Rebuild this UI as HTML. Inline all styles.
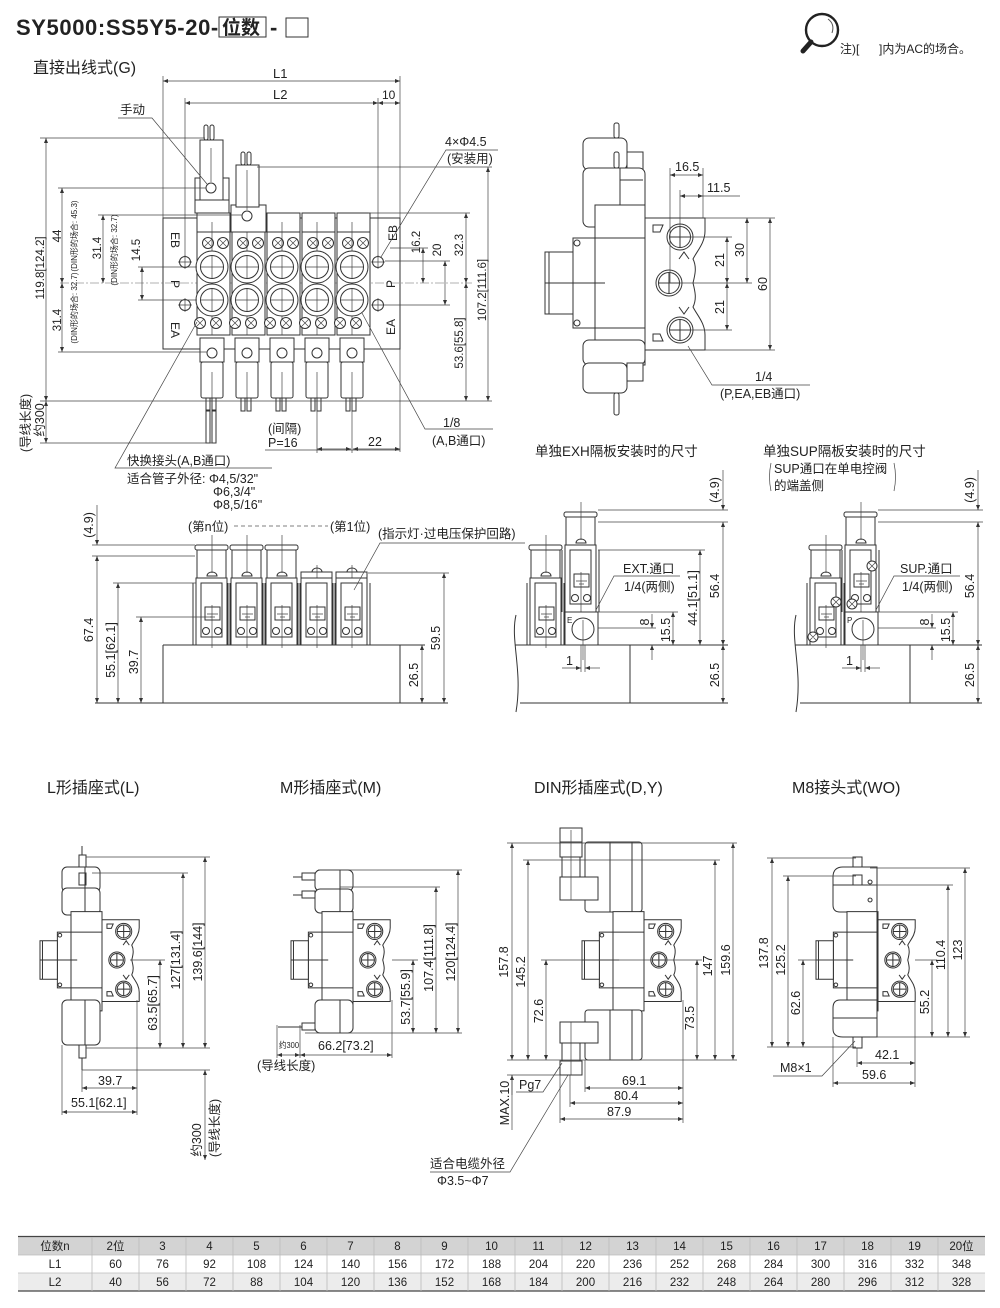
<!DOCTYPE html>
<html><head><meta charset="utf-8"><title>SY5000 SS5Y5-20</title>
<style>
html,body{margin:0;padding:0;background:#fff;width:1000px;height:1308px;overflow:hidden}
svg{display:block}
text{font-family:"Liberation Sans","Noto Sans CJK SC",sans-serif;fill:#222;font-size:11.5px}
.o{fill:none;stroke:#333;stroke-width:1;vector-effect:non-scaling-stroke}
.w{fill:#fff;stroke:#333;stroke-width:1;vector-effect:non-scaling-stroke}
.e{fill:none;stroke:#444;stroke-width:0.7}
.m{fill:none;stroke:#444;stroke-width:0.7;marker-start:url(#a);marker-end:url(#a)}
.m1{fill:none;stroke:#444;stroke-width:0.7;marker-end:url(#a)}
.c{fill:none;stroke:#666;stroke-width:0.6;stroke-dasharray:9 2 2 2}
.r{text-anchor:middle}
.s{font-size:8px}
.h{font-size:16px}
.l{font-size:12.5px}
.tb{font-size:11.5px;text-anchor:middle}
</style></head>
<body>
<svg width="1000" height="1308" viewBox="0 0 1000 1308">
<defs>
<marker id="a" viewBox="0 0 10 10" refX="10" refY="5" markerWidth="7" markerHeight="5" markerUnits="userSpaceOnUse" orient="auto-start-reverse"><path d="M0,1 L10,5 L0,9z" fill="#333"/></marker>

<!-- plan view station -->
<g id="ps">
<rect class="w" x="0" y="213" width="33" height="122"/>
<line class="o" x1="0" y1="232" x2="33" y2="232"/>
<line class="e" x1="15" y1="222" x2="15" y2="335"/>
<circle class="o" cx="11" cy="243" r="5.5"/><circle class="o" cx="26" cy="243" r="5.5"/>
<path class="e" d="M7,239l8,8M15,239l-8,8M22,239l8,8M30,239l-8,8"/>
<circle class="w" cx="15" cy="267" r="16"/><circle class="o" cx="15" cy="267" r="11.5"/>
<circle class="w" cx="15" cy="300" r="16"/><circle class="o" cx="15" cy="300" r="11.5"/>
<path class="e" d="M15,256V278M4,267H26M15,289V311M4,300H26"/>
<circle class="w" cx="3" cy="323" r="5.5"/><circle class="w" cx="19" cy="323" r="5.5"/>
<path class="e" d="M-1,319l8,8M7,319l-8,8M15,319l8,8M23,319l-8,8"/>
<rect class="w" x="3" y="338" width="24" height="24"/>
<circle class="o" cx="15" cy="353" r="5"/>
<rect class="w" x="4" y="362" width="22" height="36" rx="2"/>
<line class="e" x1="15" y1="372" x2="15" y2="398"/>
<rect class="o" x="9" y="398" width="4" height="13"/><rect class="o" x="15" y="398" width="4" height="13"/>
</g>

<!-- front view station full -->
<g id="fa">
<rect class="w" x="-1" y="-100" width="33" height="5" rx="2"/>
<rect class="w" x="1" y="-95" width="29" height="30"/>
<path class="o" d="M11,-69 a5,4 0 0 1 10,0 z"/>
<line class="e" x1="16" y1="-110" x2="16" y2="-72"/>
<rect class="w" x="0" y="-67" width="31" height="67"/>
<rect class="o" x="5" y="-62" width="21" height="54"/>
<rect class="o" x="9" y="-38" width="15" height="13"/>
<path class="e" d="M11,-31h11M14,-28h5"/>
<circle class="o" cx="10" cy="-14" r="3.5"/><circle class="o" cx="22" cy="-14" r="3.5"/>
<line class="e" x1="16" y1="-40" x2="16" y2="3"/>
<path class="o" d="M-3,-62V0M34,-62V0"/>
</g>
<g id="fb">
<rect class="w" x="0" y="-73" width="31" height="8"/>
<path class="o" d="M11,-73 a5,4 0 0 1 10,0"/>
<line class="e" x1="16" y1="-80" x2="16" y2="-50"/>
<rect class="w" x="0" y="-67" width="31" height="67"/>
<rect class="o" x="5" y="-62" width="21" height="54"/>
<rect class="o" x="9" y="-38" width="15" height="13"/>
<path class="e" d="M11,-31h11M14,-28h5"/>
<circle class="o" cx="10" cy="-14" r="3.5"/><circle class="o" cx="22" cy="-14" r="3.5"/>
<line class="e" x1="16" y1="-40" x2="16" y2="3"/>
<path class="o" d="M-3,-62V0M34,-62V0"/>
</g>

<!-- side view base: manifold + body + fitting; origin = manifold left edge at P centre -->
<g id="sb">
<path class="w" d="M0,-65 H60 V-52 C60,-40 52,-32 48,-24 C52,-16 50,-8 48,0 C50,8 52,16 48,24 C52,32 60,40 60,52 V67 H0 Z"/>
<circle class="o" cx="35" cy="-46" r="13"/><circle class="o" cx="35" cy="-46" r="10.5"/>
<circle class="o" cx="24" cy="0" r="13"/><circle class="o" cx="24" cy="0" r="10.5"/>
<circle class="o" cx="35" cy="47" r="13"/><circle class="o" cx="35" cy="47" r="10.5"/>
<path class="o" d="M35,-56V-36M25,-46H45M24,-10V10M14,0H34M35,37V57M25,47H45"/>
<path class="o" d="M8,-58 h10 l-3,7 h-7 z M8,58 h10 l-3,-7 h-7 z"/>
<path class="o" d="M34,-24 l5,-7 l5,7 M34,24 l5,7 l5,-7"/>
<rect class="w" x="-50" y="-78" width="50" height="160"/>
<path class="o" d="M-50,-45 H0 M-50,45 H0"/>
<rect class="w" x="-72" y="-45" width="22" height="90"/>
<circle class="o" cx="-68" cy="-40" r="3"/><circle class="o" cx="-68" cy="40" r="3"/>
<rect class="w" x="-100" y="-31" width="28" height="62"/>
<path class="o" d="M-100,0 H-40 M-96,-31 V31"/>
</g>
</defs>

<!-- ======= TITLE ======= -->
<text x="16" y="35" style="font-size:22px;font-weight:bold;letter-spacing:0.6px">SY5000:SS5Y5-20-</text>
<rect x="219" y="17" width="47" height="20" fill="none" stroke="#333" stroke-width="1"/>
<text x="222" y="34" style="font-size:19px;font-weight:bold">位数</text>
<text x="270" y="35" style="font-size:22px;font-weight:bold">-</text>
<rect x="286" y="18" width="22" height="19" fill="none" stroke="#333" stroke-width="1"/>

<circle cx="822" cy="30" r="16" fill="none" stroke="#222" stroke-width="2.4"/>
<path d="M828,19 q7,5 4,14" fill="none" stroke="#555" stroke-width="1"/>
<line x1="811" y1="42" x2="803" y2="51" stroke="#222" stroke-width="5" stroke-linecap="round"/>
<text x="840" y="53" style="font-size:12px">注)[</text>
<text x="879" y="53" style="font-size:12px">]内为AC的场合。</text>

<text x="33" y="73" class="h">直接出线式(G)</text>

<!-- ======= PLAN VIEW (G) ======= -->
<line class="e" x1="163" y1="76" x2="163" y2="218"/>
<line class="e" x1="400" y1="76" x2="400" y2="452"/>
<line class="e" x1="185" y1="98" x2="185" y2="262"/>
<line class="e" x1="378" y1="98" x2="378" y2="262"/>
<line class="m" x1="163" y1="81" x2="400" y2="81"/>
<text x="273" y="78" style="font-size:13px">L1</text>
<line class="m" x1="185" y1="103" x2="378" y2="103"/>
<text x="273" y="99" style="font-size:13px">L2</text>
<line class="m" x1="378" y1="103" x2="400" y2="103"/>
<text x="382" y="99" style="font-size:12px">10</text>

<rect class="o" x="163" y="218" width="237" height="131"/>
<line class="c" x1="60" y1="283" x2="472" y2="283"/>

<g>
<circle class="w" cx="185" cy="262" r="5.5"/><circle class="w" cx="185" cy="305" r="5.5"/>
<circle class="w" cx="378" cy="262" r="5.5"/><circle class="w" cx="378" cy="305" r="5.5"/>
<path class="e" d="M178,262h14M185,255v14M178,305h14M185,298v14M371,262h14M378,255v14M371,305h14M378,298v14"/>
</g>

<use href="#ps" x="197"/>
<use href="#ps" x="232"/>
<use href="#ps" x="267"/>
<use href="#ps" x="302"/>
<use href="#ps" x="337"/>

<!-- station 1 & 2 solenoids -->
<rect class="w" x="195" y="178" width="34" height="35"/>
<line class="o" x1="195" y1="200" x2="229" y2="200"/>
<rect class="w" x="200" y="140" width="23" height="60"/>
<line class="e" x1="211" y1="148" x2="211" y2="182"/>
<circle class="w" cx="211" cy="188" r="5"/>
<rect class="o" x="204" y="125" width="4" height="15" rx="2"/><rect class="o" x="210" y="125" width="4" height="15" rx="2"/>
<rect class="w" x="231" y="205" width="35" height="27"/>
<rect class="w" x="236" y="165" width="23" height="42"/>
<line class="e" x1="247" y1="170" x2="247" y2="210"/>
<circle class="w" cx="247" cy="216" r="5"/>
<rect class="o" x="241" y="152" width="4" height="13" rx="2"/><rect class="o" x="247" y="152" width="4" height="13" rx="2"/>
<rect class="o" x="206" y="410" width="4" height="33"/><rect class="o" x="212" y="410" width="4" height="33"/>

<!-- labels EB P EA -->
<text transform="translate(171,240) rotate(90)" class="r" style="font-size:12px">EB</text>
<text transform="translate(171,284) rotate(90)" class="r" style="font-size:12px">P</text>
<text transform="translate(171,330) rotate(90)" class="r" style="font-size:12px">EA</text>
<text transform="translate(397,233) rotate(-90)" class="r" style="font-size:12px">EB</text>
<text transform="translate(395,284) rotate(-90)" class="r" style="font-size:12px">P</text>
<text transform="translate(395,327) rotate(-90)" class="r" style="font-size:12px">EA</text>

<!-- left dims -->
<line class="e" x1="40" y1="138" x2="205" y2="138"/>
<line class="m" x1="46" y1="138" x2="46" y2="401"/>
<text transform="translate(44,268) rotate(-90)" class="r">119.8[124.2]</text>
<line class="e" x1="58" y1="188" x2="206" y2="188"/>
<line class="m" x1="62" y1="188" x2="62" y2="283"/>
<text transform="translate(61,236) rotate(-90)" class="r">44</text>
<text transform="translate(77,236) rotate(-90)" class="r s">(DIN形的场合: 45.3)</text>
<line class="e" x1="98" y1="215" x2="242" y2="215"/>
<line class="m" x1="103" y1="215" x2="103" y2="283"/>
<text transform="translate(101,248) rotate(-90)" class="r">31.4</text>
<text transform="translate(117,250) rotate(-90)" class="r s">(DIN形的场合: 32.7)</text>
<line class="e" x1="138" y1="267" x2="197" y2="267"/>
<line class="e" x1="138" y1="300" x2="197" y2="300"/>
<line class="m" x1="142" y1="267" x2="142" y2="300"/>
<text transform="translate(140,250) rotate(-90)" class="r">14.5</text>
<line class="m" x1="62" y1="283" x2="62" y2="352"/>
<text transform="translate(61,320) rotate(-90)" class="r">31.4</text>
<text transform="translate(77,308) rotate(-90)" class="r s">(DIN形的场合: 32.7)</text>
<line class="e" x1="58" y1="352" x2="207" y2="352"/>
<line class="e" x1="40" y1="401" x2="492" y2="401"/>
<line class="m" x1="46" y1="401" x2="46" y2="443"/>
<line class="e" x1="40" y1="443" x2="216" y2="443"/>
<text transform="translate(44,420) rotate(-90)" class="r l">约300</text>
<text transform="translate(30,423) rotate(-90)" class="r l">(导线长度)</text>

<!-- right dims -->
<line class="e" x1="257" y1="167" x2="492" y2="167"/>
<line class="e" x1="368" y1="213" x2="470" y2="213"/>
<line class="e" x1="390" y1="248" x2="428" y2="248"/>
<line class="e" x1="385" y1="261" x2="450" y2="261"/>
<line class="e" x1="385" y1="305" x2="450" y2="305"/>
<line class="m" x1="423" y1="248" x2="423" y2="283"/>
<text transform="translate(420,242) rotate(-90)" class="r">16.2</text>
<line class="m" x1="445" y1="261" x2="445" y2="305"/>
<text transform="translate(441,250) rotate(-90)" class="r">20</text>
<line class="m" x1="466" y1="213" x2="466" y2="283"/>
<text transform="translate(463,245) rotate(-90)" class="r">32.3</text>
<line class="m" x1="466" y1="283" x2="466" y2="401"/>
<text transform="translate(463,343) rotate(-90)" class="r">53.6[55.8]</text>
<line class="m" x1="488" y1="167" x2="488" y2="401"/>
<text transform="translate(486,290) rotate(-90)" class="r">107.2[111.6]</text>

<!-- annotations -->
<text x="120" y="114" class="l">手动</text>
<path class="e" d="M118,118 H152 L207,184"/>
<text x="445" y="146" class="l">4×Φ4.5</text>
<text x="447" y="163" class="l">(安装用)</text>
<path class="e" d="M381,257 L446,150 H498"/>
<text x="268" y="433" class="l">(间隔)</text>
<text x="268" y="447" class="l">P=16</text>
<line class="e" x1="265" y1="450" x2="400" y2="450"/>
<line class="e" x1="317" y1="398" x2="317" y2="453"/>
<line class="e" x1="352" y1="398" x2="352" y2="453"/>
<line class="m" x1="317" y1="449" x2="351" y2="449"/>
<line class="m" x1="353" y1="449" x2="400" y2="449"/>
<text x="368" y="446" class="l">22</text>
<path class="e" d="M362,313 L425,429 H493"/>
<text x="443" y="427" class="l">1/8</text>
<text x="432" y="445" class="l">(A,B通口)</text>
<path class="e" d="M197,322 L115,468 H272"/>
<text x="127" y="465" class="l">快换接头(A,B通口)</text>
<text x="127" y="483" class="l">适合管子外径: Φ4,5/32"</text>
<text x="213" y="496" class="l">Φ6,3/4"</text>
<text x="213" y="509" class="l">Φ8,5/16"</text>

<!-- ======= TOP-RIGHT SIDE VIEW ======= -->
<rect class="w" x="583" y="138" width="44" height="32" rx="6"/>
<rect class="w" x="627" y="152" width="16" height="18"/>
<rect class="w" x="583" y="168" width="62" height="59" rx="6"/>
<path class="o" d="M620,168V227M620,180H643M620,205H643"/>
<rect class="o" x="614" y="123" width="5" height="15" rx="2"/>
<rect class="o" x="614" y="152" width="5" height="16" rx="2"/>
<use href="#sb" transform="translate(645,283)"/>
<rect class="w" x="583" y="340" width="62" height="25" rx="6"/>
<rect class="w" x="583" y="363" width="44" height="30" rx="6"/>
<rect class="w" x="627" y="363" width="16" height="18"/>
<rect class="o" x="614" y="393" width="5" height="22" rx="2"/>

<line class="e" x1="670" y1="168" x2="670" y2="283"/>
<line class="e" x1="703" y1="168" x2="703" y2="218"/>
<line class="e" x1="680" y1="190" x2="680" y2="237"/>
<line class="m" x1="670" y1="175" x2="703" y2="175"/>
<text x="675" y="171" class="l">16.5</text>
<line class="m" x1="680" y1="196" x2="703" y2="196"/>
<line class="e" x1="703" y1="196" x2="740" y2="196"/>
<text x="707" y="192" class="l">11.5</text>
<line class="e" x1="705" y1="218" x2="775" y2="218"/>
<line class="e" x1="680" y1="237" x2="732" y2="237"/>
<line class="e" x1="660" y1="283" x2="752" y2="283"/>
<line class="e" x1="680" y1="330" x2="732" y2="330"/>
<line class="e" x1="705" y1="350" x2="775" y2="350"/>
<line class="m" x1="727" y1="237" x2="727" y2="283"/>
<line class="m" x1="727" y1="283" x2="727" y2="330"/>
<line class="m" x1="747" y1="218" x2="747" y2="283"/>
<line class="m" x1="770" y1="218" x2="770" y2="350"/>
<text transform="translate(724,260) rotate(-90)" class="r l">21</text>
<text transform="translate(724,307) rotate(-90)" class="r l">21</text>
<text transform="translate(744,250) rotate(-90)" class="r l">30</text>
<text transform="translate(767,284) rotate(-90)" class="r l">60</text>
<path class="e" d="M688,346 L712,385 H810"/>
<text x="755" y="381" class="l">1/4</text>
<text x="720" y="398" class="l">(P,EA,EB通口)</text>

<!-- ======= FRONT VIEW (middle left) ======= -->
<line class="o" x1="163" y1="645" x2="425" y2="645"/>
<line class="o" x1="163" y1="645" x2="163" y2="703"/>
<line class="o" x1="400" y1="645" x2="400" y2="703"/>
<line class="o" x1="95" y1="703" x2="448" y2="703"/>
<use href="#fa" transform="translate(196,645)"/>
<use href="#fa" transform="translate(231,645)"/>
<use href="#fa" transform="translate(266,645)"/>
<use href="#fb" transform="translate(301,645)"/>
<use href="#fb" transform="translate(336,645)"/>

<line class="e" x1="92" y1="545" x2="195" y2="545"/>
<line class="e" x1="92" y1="556" x2="195" y2="556"/>
<line class="m1" x1="97" y1="505" x2="97" y2="545"/>
<text transform="translate(93,525) rotate(-90)" class="r l">(4.9)</text>
<line class="m" x1="97" y1="556" x2="97" y2="703"/>
<text transform="translate(93,630) rotate(-90)" class="r l">67.4</text>
<line class="e" x1="113" y1="583" x2="196" y2="583"/>
<line class="m" x1="118" y1="583" x2="118" y2="703"/>
<text transform="translate(115,650) rotate(-90)" class="r l">55.1[62.1]</text>
<line class="e" x1="136" y1="617" x2="212" y2="617"/>
<line class="m" x1="141" y1="617" x2="141" y2="703"/>
<text transform="translate(138,662) rotate(-90)" class="r l">39.7</text>
<line class="e" x1="368" y1="573" x2="449" y2="573"/>
<line class="m" x1="444" y1="573" x2="444" y2="703"/>
<text transform="translate(440,638) rotate(-90)" class="r l">59.5</text>
<line class="m" x1="422" y1="645" x2="422" y2="703"/>
<text transform="translate(418,675) rotate(-90)" class="r l">26.5</text>

<text x="188" y="531" class="l">(第n位)</text>
<line x1="234" y1="526" x2="328" y2="526" stroke="#555" stroke-width="0.8" stroke-dasharray="4 3"/>
<text x="330" y="531" class="l">(第1位)</text>
<text x="378" y="538" class="l">(指示灯·过电压保护回路)</text>
<path class="e" d="M354,590 L380,543 H525"/>

<!-- ======= EXH ======= -->
<text x="535" y="456" style="font-size:13.5px">单独EXH隔板安装时的尺寸</text>
<path class="o" d="M515,645 H728 M630,645 V703 M520,703 H728"/>
<path class="o" d="M516,615 C510,640 523,670 516,712"/>
<use href="#fa" transform="translate(530,645)"/>
<use href="#fa" transform="translate(565,612)"/>
<rect class="w" x="565" y="612" width="33" height="33"/>
<circle class="o" cx="583" cy="629" r="11"/><line class="e" x1="583" y1="620" x2="583" y2="660"/>
<text x="567" y="623" style="font-size:8px">E</text>
<line class="e" x1="598" y1="510" x2="728" y2="510"/>
<line class="e" x1="598" y1="522" x2="728" y2="522"/>
<line class="m1" x1="723" y1="470" x2="723" y2="510"/>
<text transform="translate(719,490) rotate(-90)" class="r l">(4.9)</text>
<line class="m" x1="723" y1="522" x2="723" y2="645"/>
<text transform="translate(719,586) rotate(-90)" class="r l">56.4</text>
<line class="e" x1="598" y1="550" x2="705" y2="550"/>
<line class="m" x1="700" y1="550" x2="700" y2="645"/>
<text transform="translate(697,598) rotate(-90)" class="r l">44.1[51.1]</text>
<line class="e" x1="598" y1="612" x2="678" y2="612"/>
<line class="m" x1="673" y1="612" x2="673" y2="645"/>
<text transform="translate(670,630) rotate(-90)" class="r l">15.5</text>
<line class="e" x1="598" y1="628" x2="656" y2="628"/>
<line class="m1" x1="652" y1="614" x2="652" y2="628"/>
<line class="m1" x1="652" y1="660" x2="652" y2="645"/>
<text transform="translate(649,622) rotate(-90)" class="r l">8</text>
<line class="m" x1="723" y1="645" x2="723" y2="703"/>
<text transform="translate(719,675) rotate(-90)" class="r l">26.5</text>
<line class="e" x1="581" y1="645" x2="581" y2="672"/>
<line class="e" x1="585" y1="645" x2="585" y2="672"/>
<line class="m1" x1="562" y1="668" x2="581" y2="668"/>
<line class="m1" x1="600" y1="668" x2="585" y2="668"/>
<text x="566" y="665" class="l">1</text>
<path class="e" d="M596,610 L614,576 H680"/>
<text x="623" y="573" class="l">EXT.通口</text>
<text x="624" y="591" class="l">1/4(两侧)</text>

<!-- ======= SUP ======= -->
<text x="763" y="456" style="font-size:13.5px">单独SUP隔板安装时的尺寸</text>
<path class="e" d="M771,463 q-3,14 0,28 M894,463 q3,14 0,28"/>
<text x="774" y="473" class="l">SUP通口在单电控阀</text>
<text x="774" y="490" class="l">的端盖侧</text>
<path class="o" d="M795,645 H982 M910,645 V703 M800,703 H982"/>
<path class="o" d="M796,615 C790,640 803,670 796,712"/>
<use href="#fa" transform="translate(810,645)"/>
<use href="#fa" transform="translate(845,612)"/>
<rect class="w" x="845" y="612" width="33" height="33"/>
<circle class="o" cx="863" cy="629" r="11"/><line class="e" x1="863" y1="620" x2="863" y2="660"/>
<text x="847" y="623" style="font-size:8px">P</text>
<g>
<circle class="w" cx="872" cy="566" r="5"/><circle class="w" cx="836" cy="602" r="5"/><circle class="w" cx="852" cy="604" r="5"/><circle class="w" cx="813" cy="637" r="5"/>
<path class="e" d="M868,562l8,8M876,562l-8,8M832,598l8,8M840,598l-8,8M848,600l8,8M856,600l-8,8M809,633l8,8M817,633l-8,8"/>
</g>
<line class="e" x1="878" y1="510" x2="983" y2="510"/>
<line class="e" x1="878" y1="522" x2="983" y2="522"/>
<line class="m1" x1="978" y1="470" x2="978" y2="510"/>
<text transform="translate(974,490) rotate(-90)" class="r l">(4.9)</text>
<line class="m" x1="978" y1="522" x2="978" y2="645"/>
<text transform="translate(974,586) rotate(-90)" class="r l">56.4</text>
<line class="e" x1="878" y1="612" x2="958" y2="612"/>
<line class="m" x1="953" y1="612" x2="953" y2="645"/>
<text transform="translate(950,630) rotate(-90)" class="r l">15.5</text>
<line class="e" x1="878" y1="628" x2="936" y2="628"/>
<line class="m1" x1="932" y1="614" x2="932" y2="628"/>
<line class="m1" x1="932" y1="660" x2="932" y2="645"/>
<text transform="translate(929,622) rotate(-90)" class="r l">8</text>
<line class="m" x1="978" y1="645" x2="978" y2="703"/>
<text transform="translate(974,675) rotate(-90)" class="r l">26.5</text>
<line class="e" x1="861" y1="645" x2="861" y2="672"/>
<line class="e" x1="865" y1="645" x2="865" y2="672"/>
<line class="m1" x1="842" y1="668" x2="861" y2="668"/>
<line class="m1" x1="880" y1="668" x2="865" y2="668"/>
<text x="846" y="665" class="l">1</text>
<path class="e" d="M876,610 L894,576 H960"/>
<text x="900" y="573" class="l">SUP.通口</text>
<text x="902" y="591" class="l">1/4(两侧)</text>

<!-- ======= BOTTOM ROW TITLES ======= -->
<text x="47" y="793" class="h">L形插座式(L)</text>
<text x="280" y="793" class="h">M形插座式(M)</text>
<text x="534" y="793" class="h">DIN形插座式(D,Y)</text>
<text x="792" y="793" class="h">M8接头式(WO)</text>

<!-- ======= L VIEW ======= -->
<rect class="w" x="62" y="867" width="38" height="25" rx="5"/>
<rect class="w" x="62" y="888" width="38" height="27" rx="5"/>
<path class="o" d="M85,867V915"/>
<rect class="o" x="79" y="855" width="7" height="12"/><line class="o" x1="82" y1="846" x2="82" y2="855"/>
<rect class="o" x="79" y="873" width="7" height="12"/>
<use href="#sb" transform="translate(102,960) scale(0.62)"/>
<rect class="w" x="62" y="1000" width="38" height="45" rx="5"/>
<path class="o" d="M85,1000V1045"/>
<rect class="o" x="79" y="1045" width="7" height="13"/><line class="o" x1="82" y1="1058" x2="82" y2="1070"/>

<line class="e" x1="86" y1="857" x2="210" y2="857"/>
<line class="e" x1="92" y1="873" x2="188" y2="873"/>
<line class="e" x1="130" y1="960" x2="165" y2="960"/>
<line class="e" x1="86" y1="1048" x2="210" y2="1048"/>
<line class="e" x1="82" y1="1070" x2="210" y2="1070"/>
<line class="m" x1="160" y1="960" x2="160" y2="1048"/>
<text transform="translate(157,1003) rotate(-90)" class="r l">63.5[65.7]</text>
<line class="m" x1="183" y1="873" x2="183" y2="1048"/>
<text transform="translate(180,960) rotate(-90)" class="r l">127[131.4]</text>
<line class="m" x1="205" y1="857" x2="205" y2="1048"/>
<text transform="translate(202,952) rotate(-90)" class="r l">139.6[144]</text>
<line class="m" x1="205" y1="1070" x2="205" y2="1160"/>
<text transform="translate(201,1140) rotate(-90)" class="r l">约300</text>
<text transform="translate(219,1128) rotate(-90)" class="r l">(导线长度)</text>
<line class="e" x1="137" y1="1000" x2="137" y2="1115"/>
<line class="e" x1="62" y1="1045" x2="62" y2="1115"/>
<line class="e" x1="82" y1="1070" x2="82" y2="1092"/>
<line class="m" x1="82" y1="1088" x2="137" y2="1088"/>
<text x="98" y="1085" class="l">39.7</text>
<line class="m" x1="62" y1="1112" x2="137" y2="1112"/>
<text x="71" y="1107" class="l">55.1[62.1]</text>

<!-- ======= M VIEW ======= -->
<rect class="w" x="315" y="870" width="38" height="21" rx="5"/>
<rect class="w" x="315" y="889" width="38" height="24" rx="5"/>
<path class="o" d="M340,870V913"/>
<rect class="o" x="302" y="873" width="13" height="7"/><line class="o" x1="293" y1="877" x2="302" y2="877"/>
<rect class="o" x="302" y="891" width="13" height="7"/><line class="o" x1="293" y1="895" x2="302" y2="895"/>
<use href="#sb" transform="translate(353,960) scale(0.62)"/>
<rect class="w" x="315" y="1000" width="38" height="33" rx="5"/>
<path class="o" d="M340,1000V1033"/>
<rect class="o" x="302" y="1023" width="13" height="7"/><line class="o" x1="278" y1="1027" x2="302" y2="1027"/>

<line class="e" x1="318" y1="870" x2="462" y2="870"/>
<line class="e" x1="340" y1="887" x2="440" y2="887"/>
<line class="e" x1="392" y1="960" x2="418" y2="960"/>
<line class="e" x1="305" y1="1033" x2="462" y2="1033"/>
<line class="m" x1="413" y1="960" x2="413" y2="1033"/>
<text transform="translate(410,997) rotate(-90)" class="r l">53.7[55.9]</text>
<line class="m" x1="436" y1="887" x2="436" y2="1033"/>
<text transform="translate(433,958) rotate(-90)" class="r l">107.4[111.8]</text>
<line class="m" x1="458" y1="870" x2="458" y2="1033"/>
<text transform="translate(455,952) rotate(-90)" class="r l">120[124.4]</text>
<line class="e" x1="300" y1="1025" x2="300" y2="1058"/>
<line class="e" x1="392" y1="1000" x2="392" y2="1058"/>
<line class="e" x1="277" y1="1025" x2="277" y2="1058"/>
<line class="m" x1="300" y1="1055" x2="392" y2="1055"/>
<text x="318" y="1050" class="l">66.2[73.2]</text>
<line class="m" x1="277" y1="1055" x2="300" y2="1055"/>
<text x="279" y="1048" style="font-size:8.5px" textLength="20" lengthAdjust="spacingAndGlyphs">约300</text>
<text x="257" y="1070" class="l">(导线长度)</text>

<!-- ======= DIN VIEW ======= -->
<rect class="w" x="585" y="842" width="57" height="70" rx="3"/>
<path class="o" d="M610,842V912M632,842V912"/>
<rect class="w" x="560" y="828" width="22" height="14"/>
<rect class="w" x="560" y="842" width="22" height="15"/>
<rect class="w" x="562" y="857" width="18" height="20"/>
<rect class="w" x="560" y="877" width="38" height="23"/>
<line class="e" x1="571" y1="830" x2="571" y2="900"/>
<use href="#sb" transform="translate(644,960) scale(0.62)"/>
<rect class="w" x="585" y="1010" width="57" height="50" rx="3"/>
<path class="o" d="M610,1010V1060M632,1010V1060"/>
<rect class="w" x="560" y="1022" width="38" height="21"/>
<rect class="w" x="562" y="1043" width="18" height="18"/>
<rect class="w" x="560" y="1061" width="22" height="14"/>
<line class="e" x1="571" y1="1022" x2="571" y2="1075"/>

<line class="e" x1="507" y1="843" x2="737" y2="843"/>
<line class="e" x1="523" y1="860" x2="720" y2="860"/>
<line class="e" x1="541" y1="960" x2="702" y2="960"/>
<line class="e" x1="507" y1="1060" x2="737" y2="1060"/>
<line class="m" x1="512" y1="843" x2="512" y2="1060"/>
<text transform="translate(508,962) rotate(-90)" class="r l">157.8</text>
<line class="m" x1="528" y1="860" x2="528" y2="1060"/>
<text transform="translate(525,972) rotate(-90)" class="r l">145.2</text>
<line class="m" x1="546" y1="960" x2="546" y2="1060"/>
<text transform="translate(543,1011) rotate(-90)" class="r l">72.6</text>
<line class="m" x1="697" y1="960" x2="697" y2="1060"/>
<text transform="translate(694,1018) rotate(-90)" class="r l">73.5</text>
<line class="m" x1="715" y1="860" x2="715" y2="1060"/>
<text transform="translate(712,966) rotate(-90)" class="r l">147</text>
<line class="m" x1="733" y1="843" x2="733" y2="1060"/>
<text transform="translate(730,960) rotate(-90)" class="r l">159.6</text>
<line class="e" x1="683" y1="1000" x2="683" y2="1123"/>
<line class="e" x1="585" y1="1060" x2="585" y2="1092"/>
<line class="e" x1="570" y1="1075" x2="570" y2="1107"/>
<line class="e" x1="560" y1="1075" x2="560" y2="1123"/>
<line class="m" x1="585" y1="1088" x2="683" y2="1088"/>
<text x="622" y="1085" class="l">69.1</text>
<line class="m" x1="570" y1="1103" x2="683" y2="1103"/>
<text x="614" y="1100" class="l">80.4</text>
<line class="m" x1="560" y1="1119" x2="683" y2="1119"/>
<text x="607" y="1116" class="l">87.9</text>
<line class="e" x1="507" y1="1075" x2="560" y2="1075"/>
<line class="m1" x1="512" y1="1095" x2="512" y2="1075"/>
<line class="e" x1="512" y1="1075" x2="512" y2="1130"/>
<text transform="translate(509,1103) rotate(-90)" class="r l">MAX.10</text>
<path class="e" d="M562,1063 L543,1092 H516"/>
<text x="519" y="1089" class="l">Pg7</text>
<path class="e" d="M568,1075 L510,1172 H430"/>
<text x="430" y="1168" class="l">适合电缆外径</text>
<text x="437" y="1185" class="l">Φ3.5~Φ7</text>

<!-- ======= M8 VIEW ======= -->
<path class="w" d="M877,867 H843 Q833,867 833,877 V905 Q833,912 840,912 H877 Z"/>
<path class="o" d="M833,885 H877"/>
<rect class="w" x="853" y="857" width="9" height="10"/>
<rect class="w" x="853" y="875" width="9" height="10"/>
<path class="o" d="M870,880a2,2 0 1 0 0.1,0M870,898a2,2 0 1 0 0.1,0"/>
<use href="#sb" transform="translate(878,960) scale(0.62)"/>
<path class="w" d="M877,1000 H840 Q833,1000 833,1008 V1029 Q833,1037 843,1037 H877 Z"/>
<path class="o" d="M833,1018 H877"/>
<rect class="w" x="853" y="1037" width="9" height="11"/>
<line class="o" x1="877" y1="867" x2="877" y2="1037"/>

<line class="e" x1="767" y1="858" x2="856" y2="858"/>
<line class="e" x1="783" y1="876" x2="856" y2="876"/>
<line class="e" x1="798" y1="960" x2="845" y2="960"/>
<line class="e" x1="767" y1="1047" x2="856" y2="1047"/>
<line class="m" x1="772" y1="858" x2="772" y2="1047"/>
<text transform="translate(768,953) rotate(-90)" class="r l">137.8</text>
<line class="m" x1="788" y1="876" x2="788" y2="1047"/>
<text transform="translate(785,960) rotate(-90)" class="r l">125.2</text>
<line class="m" x1="803" y1="960" x2="803" y2="1047"/>
<text transform="translate(800,1003) rotate(-90)" class="r l">62.6</text>
<line class="e" x1="870" y1="868" x2="970" y2="868"/>
<line class="e" x1="870" y1="885" x2="953" y2="885"/>
<line class="e" x1="915" y1="960" x2="937" y2="960"/>
<line class="e" x1="870" y1="1037" x2="970" y2="1037"/>
<line class="m" x1="932" y1="960" x2="932" y2="1037"/>
<text transform="translate(929,1002) rotate(-90)" class="r l">55.2</text>
<line class="m" x1="948" y1="885" x2="948" y2="1037"/>
<text transform="translate(945,955) rotate(-90)" class="r l">110.4</text>
<line class="m" x1="965" y1="868" x2="965" y2="1037"/>
<text transform="translate(962,950) rotate(-90)" class="r l">123</text>
<line class="e" x1="915" y1="1000" x2="915" y2="1087"/>
<line class="e" x1="857" y1="1048" x2="857" y2="1067"/>
<line class="e" x1="833" y1="1037" x2="833" y2="1087"/>
<line class="m" x1="857" y1="1063" x2="915" y2="1063"/>
<text x="875" y="1059" class="l">42.1</text>
<line class="m" x1="833" y1="1083" x2="915" y2="1083"/>
<text x="862" y="1079" class="l">59.6</text>
<path class="e" d="M855,1041 L822,1076 H773"/>
<text x="780" y="1072" class="l">M8×1</text>

<!-- ======= TABLE ======= -->
<rect x="18" y="1237" width="967" height="18" fill="#d3d3d3"/>
<rect x="18" y="1255" width="967" height="18" fill="#ffffff"/>
<rect x="18" y="1273" width="967" height="18" fill="#ececec"/>
<line x1="18" y1="1236.5" x2="985" y2="1236.5" stroke="#444" stroke-width="1.2"/>
<line x1="18" y1="1291" x2="985" y2="1291" stroke="#444" stroke-width="1.2"/>
<line x1="18" y1="1255" x2="985" y2="1255" stroke="#bbb" stroke-width="0.8"/>
<line x1="18" y1="1273" x2="985" y2="1273" stroke="#bbb" stroke-width="0.8"/>
<g stroke="#bbb" stroke-width="0.8">
<line x1="92" y1="1237" x2="92" y2="1291"/><line x1="139" y1="1237" x2="139" y2="1291"/><line x1="186" y1="1237" x2="186" y2="1291"/><line x1="233" y1="1237" x2="233" y2="1291"/><line x1="280" y1="1237" x2="280" y2="1291"/><line x1="327" y1="1237" x2="327" y2="1291"/><line x1="374" y1="1237" x2="374" y2="1291"/><line x1="421" y1="1237" x2="421" y2="1291"/><line x1="468" y1="1237" x2="468" y2="1291"/><line x1="515" y1="1237" x2="515" y2="1291"/><line x1="562" y1="1237" x2="562" y2="1291"/><line x1="609" y1="1237" x2="609" y2="1291"/><line x1="656" y1="1237" x2="656" y2="1291"/><line x1="703" y1="1237" x2="703" y2="1291"/><line x1="750" y1="1237" x2="750" y2="1291"/><line x1="797" y1="1237" x2="797" y2="1291"/><line x1="844" y1="1237" x2="844" y2="1291"/><line x1="891" y1="1237" x2="891" y2="1291"/><line x1="938" y1="1237" x2="938" y2="1291"/>
</g>
<g>
<text x="55" y="1250" class="tb">位数n</text>
<text x="115.5" y="1250" class="tb">2位</text><text x="162.5" y="1250" class="tb">3</text><text x="209.5" y="1250" class="tb">4</text><text x="256.5" y="1250" class="tb">5</text><text x="303.5" y="1250" class="tb">6</text><text x="350.5" y="1250" class="tb">7</text><text x="397.5" y="1250" class="tb">8</text><text x="444.5" y="1250" class="tb">9</text><text x="491.5" y="1250" class="tb">10</text><text x="538.5" y="1250" class="tb">11</text><text x="585.5" y="1250" class="tb">12</text><text x="632.5" y="1250" class="tb">13</text><text x="679.5" y="1250" class="tb">14</text><text x="726.5" y="1250" class="tb">15</text><text x="773.5" y="1250" class="tb">16</text><text x="820.5" y="1250" class="tb">17</text><text x="867.5" y="1250" class="tb">18</text><text x="914.5" y="1250" class="tb">19</text><text x="961.5" y="1250" class="tb">20位</text>
<text x="55" y="1268" class="tb">L1</text>
<text x="115.5" y="1268" class="tb">60</text><text x="162.5" y="1268" class="tb">76</text><text x="209.5" y="1268" class="tb">92</text><text x="256.5" y="1268" class="tb">108</text><text x="303.5" y="1268" class="tb">124</text><text x="350.5" y="1268" class="tb">140</text><text x="397.5" y="1268" class="tb">156</text><text x="444.5" y="1268" class="tb">172</text><text x="491.5" y="1268" class="tb">188</text><text x="538.5" y="1268" class="tb">204</text><text x="585.5" y="1268" class="tb">220</text><text x="632.5" y="1268" class="tb">236</text><text x="679.5" y="1268" class="tb">252</text><text x="726.5" y="1268" class="tb">268</text><text x="773.5" y="1268" class="tb">284</text><text x="820.5" y="1268" class="tb">300</text><text x="867.5" y="1268" class="tb">316</text><text x="914.5" y="1268" class="tb">332</text><text x="961.5" y="1268" class="tb">348</text>
<text x="55" y="1286" class="tb">L2</text>
<text x="115.5" y="1286" class="tb">40</text><text x="162.5" y="1286" class="tb">56</text><text x="209.5" y="1286" class="tb">72</text><text x="256.5" y="1286" class="tb">88</text><text x="303.5" y="1286" class="tb">104</text><text x="350.5" y="1286" class="tb">120</text><text x="397.5" y="1286" class="tb">136</text><text x="444.5" y="1286" class="tb">152</text><text x="491.5" y="1286" class="tb">168</text><text x="538.5" y="1286" class="tb">184</text><text x="585.5" y="1286" class="tb">200</text><text x="632.5" y="1286" class="tb">216</text><text x="679.5" y="1286" class="tb">232</text><text x="726.5" y="1286" class="tb">248</text><text x="773.5" y="1286" class="tb">264</text><text x="820.5" y="1286" class="tb">280</text><text x="867.5" y="1286" class="tb">296</text><text x="914.5" y="1286" class="tb">312</text><text x="961.5" y="1286" class="tb">328</text>
</g>
</svg>
</body></html>
